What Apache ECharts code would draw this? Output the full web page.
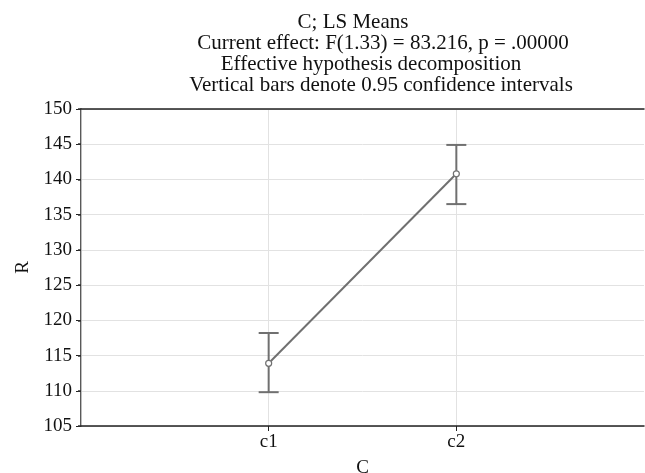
<!DOCTYPE html>
<html lang="en">
<head>
    <meta charset="UTF-8">
    <title>C; LS Means</title>
    <script src="https://cdn.jsdelivr.net/npm/echarts@6/dist/echarts.min.js"></script>
</head>
<body style="margin: 0; background-color: #fff">
<div id="container" style="width: 645px; height: 473px"></div>
<script type="text/javascript">
    // data
    let categories = ['c1', 'c2'];
    let means = [113.9, 140.8];
    let lower = [109.8, 136.5];
    let upper = [118.2, 144.9];
    let yTicks = [105, 110, 115, 120, 125, 130, 135, 140, 145, 150];
    let titleLines = [
        'C; LS Means',
        'Current effect: F(1.33) = 83.216, p = .00000',
        'Effective hypothesis decomposition',
        'Vertical bars denote 0.95 confidence intervals'
    ];

    let font = 'Liberation Serif';
    let lineColor = '#707070';
    let txt = {fontFamily: font, fontSize: 19, color: '#111'};

    // centre of each title line
    let titleX = [353, 383, 371, 381];
    let titles = titleLines.map(function (t, i) {
        return {
            text: t,
            left: titleX[i],
            top: 12 + i * 21,
            padding: 0,
            textAlign: 'center',
            textStyle: {fontFamily: font, fontSize: 21, fontWeight: 'normal', color: '#111'}
        };
    });

    let points = categories.map(function (c, i) { return [i + 1, means[i]]; });
    let bars = categories.map(function (c, i) { return [i + 1, lower[i], upper[i]]; });

    let dom = document.getElementById("container");
    let myChart = echarts.init(dom);
    let option = {
        animation: false,
        title: titles,
        grid: {left: 81, top: 109, width: 563, bottom: 47, outerBoundsMode: 'none'},
        xAxis: [
            {
                type: 'value', min: 0, max: 3, interval: 1, position: 'bottom',
                name: 'C', nameLocation: 'middle', nameGap: 33,
                nameTextStyle: txt,
                axisLine: {show: true, lineStyle: {color: '#222', width: 1.5}},
                axisTick: {show: true, length: 5, customValues: [1, 2], lineStyle: {color: '#222'}},
                axisLabel: Object.assign({
                    customValues: [1, 2], margin: 7,
                    formatter: function (v) { return categories[v - 1] || ''; }
                }, txt),
                splitLine: {show: true, lineStyle: {color: '#e2e2e2'}}
            },
            {
                type: 'value', min: 0, max: 3, interval: 1, position: 'top',
                axisLine: {show: true, lineStyle: {color: '#222', width: 1.5}},
                axisTick: {show: false},
                axisLabel: {show: false},
                splitLine: {show: false}
            }
        ],
        yAxis: [
            {
                type: 'value', min: yTicks[0], max: yTicks[yTicks.length - 1], interval: 5,
                name: 'R', nameLocation: 'middle', nameGap: 48, nameRotate: 90,
                nameTextStyle: txt,
                axisLine: {show: true, lineStyle: {color: '#222', width: 1.5}},
                axisTick: {show: true, length: 5, lineStyle: {color: '#222'}},
                axisLabel: Object.assign({margin: 9}, txt),
                splitLine: {show: true, lineStyle: {color: '#e2e2e2'}}
            },
            {
                type: 'value', min: yTicks[0], max: yTicks[yTicks.length - 1], interval: 5,
                position: 'right',
                axisLine: {show: true, lineStyle: {color: '#bdbdbd', width: 1}},
                axisTick: {show: true, inside: true, length: 3, lineStyle: {color: '#333', width: 1.5}},
                axisLabel: {show: false},
                splitLine: {show: false}
            }
        ],
        series: [
            {
                type: 'custom',
                data: bars,
                renderItem: function (params, api) {
                    let x = api.value(0);
                    let lo = api.coord([x, api.value(1)]);
                    let hi = api.coord([x, api.value(2)]);
                    let cap = 10;
                    let style = {stroke: lineColor, lineWidth: 2};
                    return {
                        type: 'group',
                        children: [
                            {type: 'line', shape: {x1: lo[0], y1: lo[1], x2: hi[0], y2: hi[1]}, style: style},
                            {type: 'line', shape: {x1: lo[0] - cap, y1: lo[1], x2: lo[0] + cap, y2: lo[1]}, style: style},
                            {type: 'line', shape: {x1: hi[0] - cap, y1: hi[1], x2: hi[0] + cap, y2: hi[1]}, style: style}
                        ]
                    };
                },
                z: 3
            },
            {
                type: 'line',
                data: points,
                symbol: 'circle',
                symbolSize: 6,
                lineStyle: {color: lineColor, width: 2},
                itemStyle: {color: '#fff', borderColor: lineColor, borderWidth: 1.2},
                z: 4
            }
        ]
    };
    myChart.setOption(option);
</script>
</body>
</html>
